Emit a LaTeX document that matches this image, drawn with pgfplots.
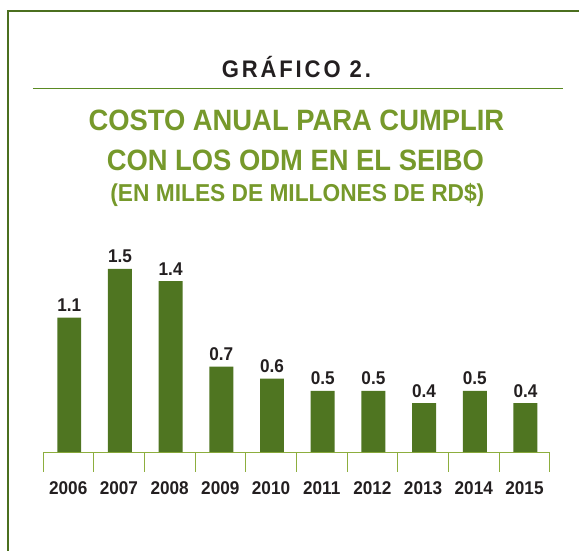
\documentclass[border=0pt]{standalone}
\usepackage{pgfplots}
\pgfplotsset{compat=1.18}
\usepackage{fontspec}
\setmainfont{Liberation Sans}[FakeStretch=0.93]
\newfontfamily\grafont{Liberation Sans}[FakeStretch=0.92,LetterSpace=12]
\definecolor{bargreen}{HTML}{4F7521}
\definecolor{bordergreen}{HTML}{4B6F1F}
\definecolor{titlegreen}{HTML}{76992B}
\definecolor{axisgreen}{HTML}{8DAE3E}
\definecolor{rulegreen}{HTML}{5A8A22}
\definecolor{darktext}{HTML}{231F20}
\begin{document}
\begin{tikzpicture}[x=1pt,y=1pt]
\path (0,0) rectangle (580,552);
% frame
\draw[bordergreen, line width=2.5pt] (8,0) -- (8,541) -- (580,541);
% titles
\node[anchor=base, inner sep=0, text=darktext] at (297,474) {\grafont\bfseries\fontsize{24}{26}\selectfont GRÁFICO 2.};
\draw[rulegreen, line width=1pt] (33,463) -- (564,463);
\node[anchor=base, inner sep=0, text=titlegreen] at (297,421) {\bfseries\fontsize{29.5}{31}\selectfont COSTO ANUAL PARA CUMPLIR};
\node[anchor=base, inner sep=0, text=titlegreen] at (296,381) {\bfseries\fontsize{29.5}{31}\selectfont CON LOS ODM EN EL SEIBO};
\node[anchor=base, inner sep=0, text=titlegreen] at (298,350) {\bfseries\fontsize{24.5}{26}\selectfont (EN MILES DE MILLONES DE RD\$)};
\begin{axis}[
  at={(43pt,99pt)}, anchor=south west,
  scale only axis,
  width=508pt, height=244.8pt,
  xmin=-0.5, xmax=9.5, ymin=0, ymax=2,
  axis x line*=bottom,
  axis y line=none,
  x axis line style={-, axisgreen, line width=1pt},
  xtick={0,...,9},
  xticklabels={2006,2007,2008,2009,2010,2011,2012,2013,2014,2015},
  major tick length=0pt,
  minor xtick={-0.5,0.5,...,9.5},
  minor tick length=20pt,
  tick align=outside,
  minor tick style={axisgreen, line width=0.8pt},
  xticklabel style={anchor=base, yshift=-43pt, inner sep=0pt, text=darktext, font=\bfseries\fontsize{18.5}{20}\selectfont},
  ybar, bar width=24pt, bar shift=1pt,
  clip=false,
  point meta=explicit symbolic,
  nodes near coords,
  every node near coord/.append style={anchor=base, yshift=6pt, inner sep=0pt, text=darktext, font=\bfseries\fontsize{18.5}{20}\selectfont},
]
\addplot[fill=bargreen, draw=none] coordinates {
  (0,1.1) [1.1]
  (1,1.5) [1.5]
  (2,1.4) [1.4]
  (3,0.7) [0.7]
  (4,0.6) [0.6]
  (5,0.5) [0.5]
  (6,0.5) [0.5]
  (7,0.4) [0.4]
  (8,0.5) [0.5]
  (9,0.4) [0.4]
};
\end{axis}
\end{tikzpicture}
\end{document}
